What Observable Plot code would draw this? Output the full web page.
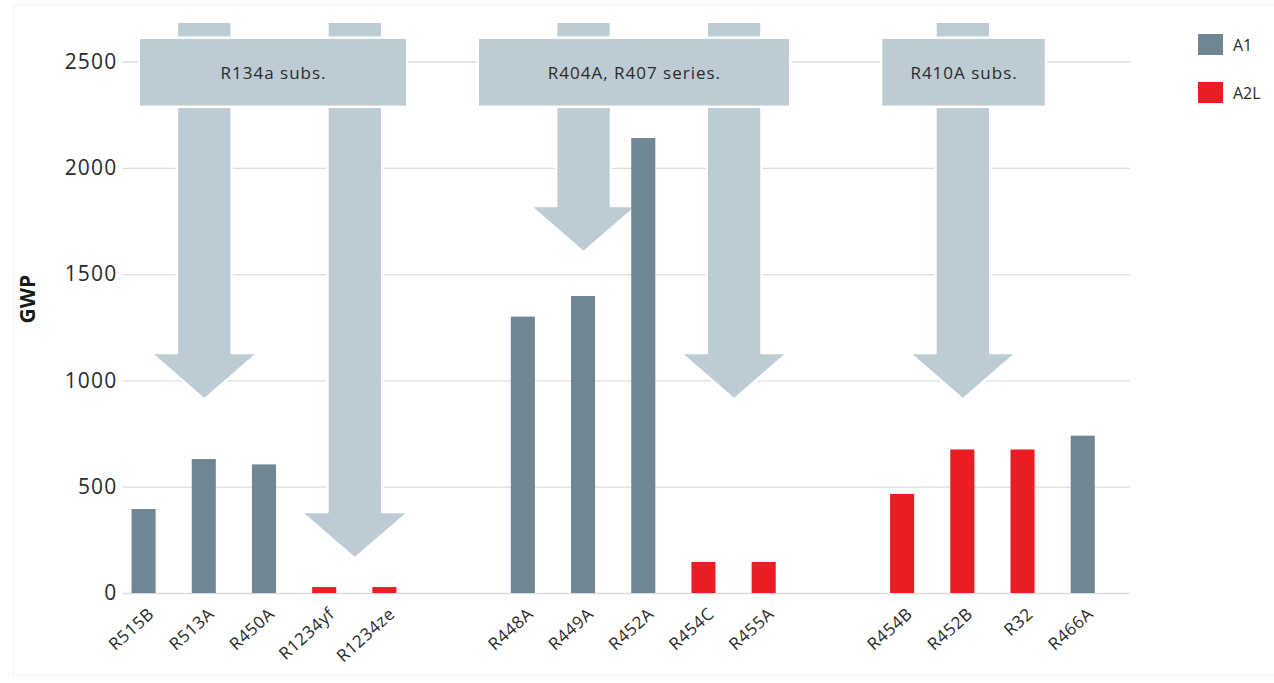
<!DOCTYPE html>
<html>
<head>
<meta charset="utf-8">
<script src="https://cdn.jsdelivr.net/npm/d3@7"></script>
<script src="https://cdn.jsdelivr.net/npm/@observablehq/plot@0.6"></script>
<style>
  html, body { margin: 0; padding: 0; background: #fff; }
  #wrap { position: relative; width: 1274px; height: 683px; overflow: hidden; font-family: "Open Sans", sans-serif; }
  #frame { position: absolute; left: 13px; top: 4px; width: 1270px; height: 670px; border-left: 1px solid #f1f1f1; border-top: 1px solid #f1f1f1; border-bottom: 1px solid #f4f4f4; pointer-events: none; }
  #legend { position: absolute; left: 1198px; top: 34px; font-size: 16px; color: #2a2a2a; }
  #legend .item { display: flex; align-items: center; height: 21px; margin-bottom: 27px; }
  #legend .sw { width: 25px; height: 21px; margin-right: 10px; }
  g[aria-description="ytick"] text { letter-spacing: 1.2px; }
  g[aria-description="xlabel"] text { letter-spacing: 0.6px; }
  g[aria-description="boxlabel"] text { letter-spacing: 1px; }
</style>
</head>
<body>
<div id="wrap">
  <div id="frame"></div>
  <div id="chart"></div>
  <div id="legend"></div>
</div>
<script>
// ---- data ----
const refrigerants = ["R515B", "R513A", "R450A", "R1234yf", "R1234ze",
                      "R448A", "R449A", "R452A", "R454C", "R455A",
                      "R454B", "R452B", "R32", "R466A"];
const gwpValues = [395, 630, 605, 28, 28,
                   1300, 1397, 2140, 146, 146,
                   466, 675, 675, 740];
const safetyClass = ["A1", "A1", "A1", "A2L", "A2L",
                     "A1", "A1", "A1", "A2L", "A2L",
                     "A2L", "A2L", "A2L", "A1"];
const groupOf = [0, 0, 0, 0, 0, 1, 1, 1, 1, 1, 2, 2, 2, 2];
const classes = ["A1", "A2L"];
const classColors = ["#718693", "#ec1c24"];
const yTicks = [0, 500, 1000, 1500, 2000, 2500];

// annotation: replacement groups (boxes) and arrows
const boxLabels = ["R134a subs.", "R404A, R407 series.", "R410A subs."];
const boxFromSlot = [-0.08, 5.55, 12.25];
const boxToSlot = [4.38, 10.74, 14.99];
const boxGwpLow = 2287, boxGwpHigh = 2612;
const arrowFrom = ["R513A", "R1234yf", "R449A", "R454C", "R452B"];
const arrowTo   = ["R513A", "R1234ze", "R449A", "R455A", "R452B"];
const arrowTipGwp = [913, 165, 1605, 913, 913];
const arrowTopGwp = 2690;
const arrowHeadGwp = 218;

// ---- layout helpers ----
const groupGap = 1.3; // extra slots between groups
const slotOf = {};
{
  const counter = {};
  refrigerants.forEach((n, i) => {
    const g = groupOf[i];
    counter[g] = (counter[g] ?? 0);
    slotOf[n] = g * (5 + groupGap) + counter[g];
    counter[g]++;
  });
}
const rows = refrigerants.map((n, i) => ({name: n, gwp: gwpValues[i], cls: safetyClass[i], slot: slotOf[n]}));

const shaftHalf = 0.455, headHalf = 0.89, barHalf = 0.2;
const arrowPts = [];
arrowFrom.forEach((a, k) => {
  const c = (slotOf[a] + slotOf[arrowTo[k]]) / 2;
  const tip = arrowTipGwp[k], head = tip + arrowHeadGwp;
  [[c - shaftHalf, arrowTopGwp], [c + shaftHalf, arrowTopGwp], [c + shaftHalf, head], [c + headHalf, head],
   [c, tip], [c - headHalf, head], [c - shaftHalf, head]].forEach(([x, y]) => arrowPts.push({id: k, x, y}));
});
const boxes = boxLabels.map((t, k) => ({label: t, x1: boxFromSlot[k], x2: boxToSlot[k]}));

const arrowColor = "#bdcbd4";

const chart = Plot.plot({
  width: 1274,
  height: 683,
  marginLeft: 123,
  marginRight: 144,
  marginTop: 19,
  marginBottom: 90,
  style: {fontFamily: "'Open Sans', sans-serif", color: "#333", background: "transparent"},
  x: {domain: [-0.342, 16.385], axis: null},
  y: {domain: [0, 2700], axis: null},
  color: {domain: classes, range: classColors},
  marks: [
    Plot.ruleY(yTicks, {stroke: "#dcdcdc", strokeWidth: 1.3}),
    Plot.line(arrowPts, {x: "x", y: "y", z: "id", fill: arrowColor, stroke: "#fff", strokeWidth: 2.5, curve: "linear-closed"}),
    Plot.rect(boxes, {x1: "x1", x2: "x2", y1: boxGwpLow, y2: boxGwpHigh, fill: arrowColor, stroke: "#fff", strokeWidth: 2.5}),
    Plot.text(boxes, {x: d => (d.x1 + d.x2) / 2, y: (boxGwpLow + boxGwpHigh) / 2, text: "label", fontSize: 17, fill: "#2a2a2a", dy: 1, ariaDescription: "boxlabel"}),
    Plot.rect(rows, {x1: d => d.slot - barHalf, x2: d => d.slot + barHalf, y1: 0, y2: "gwp", fill: "cls"}),
    Plot.text(rows, {x: "slot", y: 0, text: "name", rotate: -42, textAnchor: "end", lineAnchor: "top", dy: 13, dx: 3, fontSize: 17, fill: "#2a2a2a", ariaDescription: "xlabel"}),
    Plot.text(yTicks, {y: d => d, frameAnchor: "left", textAnchor: "end", dx: -6, text: d => String(d), fontSize: 21, fill: "#2a2a2a", ariaDescription: "ytick"}),
    Plot.text(["GWP"], {frameAnchor: "left", text: d => d, rotate: -90, dx: -95, dy: 17, fontSize: 21, fontWeight: "bold", fill: "#1a1a1a"})
  ]
});
document.getElementById("chart").appendChild(chart);

const legend = document.getElementById("legend");
classes.forEach((c, i) => {
  const item = document.createElement("div");
  item.className = "item";
  const sw = document.createElement("div");
  sw.className = "sw";
  sw.style.background = classColors[i];
  const lab = document.createElement("span");
  lab.textContent = c;
  item.appendChild(sw); item.appendChild(lab);
  legend.appendChild(item);
});
</script>
</body>
</html>
